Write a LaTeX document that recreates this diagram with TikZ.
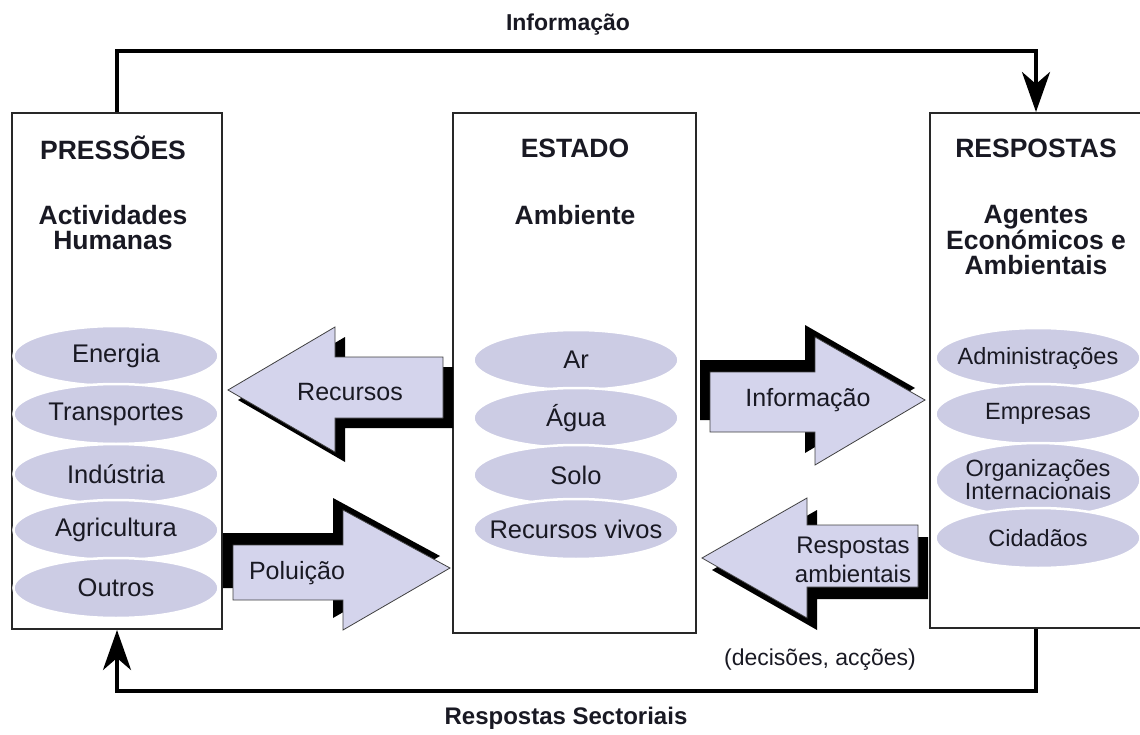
\documentclass[tikz,border=0pt]{standalone}
\usepackage{fontspec}
\setmainfont{Liberation Sans}
\usetikzlibrary{arrows.meta,shapes.geometric}
\definecolor{ellfill}{RGB}{204,204,228}
\definecolor{arrfill}{RGB}{212,212,236}
\definecolor{boxline}{RGB}{40,40,40}
\definecolor{txt}{RGB}{25,25,35}
\tikzset{
  panel/.style={draw=boxline,line width=2pt,fill=white,inner sep=0pt},
  head/.style={font=\fontsize{26.5}{25}\selectfont\bfseries,text=txt,align=center},
  oval/.style={ellipse,fill=ellfill,draw=white,line width=2.5pt,inner xsep=-45pt,inner ysep=-12pt,
    minimum width=205pt,minimum height=60pt,font=\fontsize{25.5}{23}\selectfont,text=txt,align=center},
  lbl/.style={font=\fontsize{25}{30}\selectfont,text=txt,align=center},
  conn/.style={line width=4pt,-{Stealth[length=40pt,width=28pt,inset=12pt]}},
  bigarrow/.style={fill=arrfill,draw=black!75,line width=0.8pt},
  shadow/.style={fill=black}
}
\begin{document}
\begin{tikzpicture}[x=1pt,y=-1pt]
\useasboundingbox (0,0) rectangle (1140,735);
% panels
\node[panel,minimum width=210pt,minimum height=516pt] (L) at (117,371) {};
\node[panel,minimum width=243pt,minimum height=520pt] (M) at (574.5,373) {};
\node[panel,minimum width=212pt,minimum height=515pt] (R) at (1036,370.5) {};
% connectors
\draw[conn] (L.north) -- ++(0,-61) -| (R.north);
\draw[conn] (R.south) -- ++(0,62) -| (L.south);
\node[head,font=\fontsize{23}{24}\selectfont\bfseries] (tinfo) at (568,25) {Informação};
\node[head,font=\fontsize{24}{24}\selectfont\bfseries] (tresp) at (566,718) {Respostas Sectoriais};
% headings
\node[head] (hL1) at (113,148) {PRESSÕES};
\node[head] (hL2) at (113,228) {Actividades\\Humanas};
\node[head] (hM1) at (575,148) {ESTADO};
\node[head] (hM2) at (575,215) {Ambiente};
\node[head] (hR1) at (1036,148) {RESPOSTAS};
\node[head] (hR2) at (1036,240) {Agentes\\Económicos e\\Ambientais};
% left ovals
\node[oval] (e1) at (116,356) {Energia};
\node[oval] (e2) at (116,414) {Transportes};
\node[oval] (e3) at (116,474) {Indústria};
\node[oval] (e4) at (116,530) {Agricultura};
\node[oval] (e5) at (116,588) {Outros};
% middle ovals
\node[oval] (m1) at (576,360) {Ar};
\node[oval] (m2) at (576,418) {Água};
\node[oval] (m3) at (576,475) {Solo};
\node[oval] (m4) at (576,529) {Recursos vivos};
% right ovals
\node[oval,font=\fontsize{23.5}{23}\selectfont] (r1) at (1038,358) {Administrações};
\node[oval,font=\fontsize{23.5}{23}\selectfont] (r2) at (1038,414) {Empresas};
\node[oval,font=\fontsize{23.5}{23}\selectfont,minimum height=74pt,inner ysep=-25pt] (r3) at (1038,480) {Organizações\\Internacionais};
\node[oval,font=\fontsize{23.5}{23}\selectfont] (r4) at (1038,538) {Cidadãos};
% big arrows: Recursos (left)
\fill[shadow] (238,400) -- (345,337) -- (345,367) -- (453,367) -- (453,428) -- (345,428) -- (345,462) -- cycle;
\draw[bigarrow] (228,390) -- (335,327) -- (335,357) -- (443,357) -- (443,418) -- (335,418) -- (335,452) -- cycle;
\node[lbl] (aRec) at (350,392) {Recursos};
% Informação (right)
\fill[shadow] (700,360) -- (805,360) -- (805,325) -- (915,388) -- (805,453) -- (805,420) -- (700,420) -- cycle;
\draw[bigarrow] (710,372) -- (815,372) -- (815,337) -- (925,400) -- (815,465) -- (815,432) -- (710,432) -- cycle;
\node[lbl] (aInf) at (808,400) {Informação};
% Poluição (right)
\fill[shadow] (223,533) -- (333,533) -- (333,498) -- (440,556) -- (333,618) -- (333,588) -- (223,588) -- cycle;
\draw[bigarrow] (233,545) -- (343,545) -- (343,510) -- (450,568) -- (343,630) -- (343,600) -- (233,600) -- cycle;
\node[lbl] (aPol) at (297,573) {Poluição};
% Respostas ambientais (left)
\fill[shadow] (712,570) -- (817,510) -- (817,537) -- (928,537) -- (928,599) -- (817,599) -- (817,630) -- cycle;
\draw[bigarrow] (702,558) -- (807,498) -- (807,525) -- (918,525) -- (918,587) -- (807,587) -- (807,618) -- cycle;
\node[lbl,font=\fontsize{24}{29}\selectfont] (aResp) at (853,560) {Respostas\\ambientais};
\node[lbl,font=\fontsize{23}{23}\selectfont] (dec) at (820,660) {(decisões, acções)};
\end{tikzpicture}
\end{document}
